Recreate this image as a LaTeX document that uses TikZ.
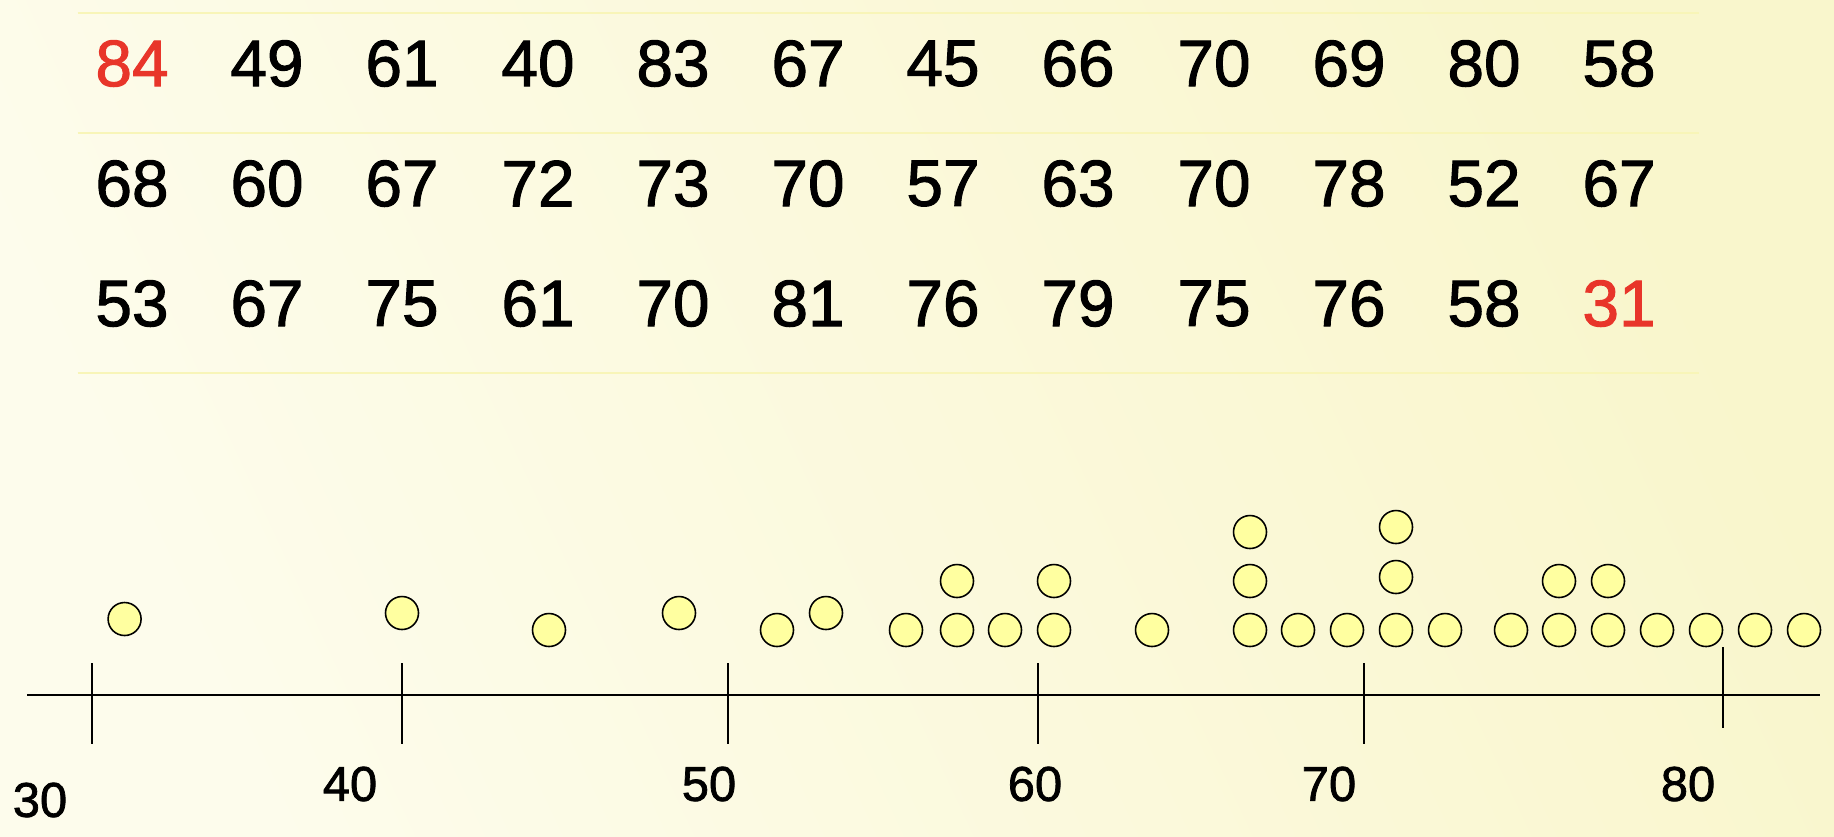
\documentclass[tikz,border=0pt]{standalone}
\usepackage{fontspec}
\setmainfont{Liberation Sans}
\newfontfamily\heavyfont[FakeBold=1.5]{Liberation Sans}
\usepackage{tikz}

\definecolor{bgLight}{HTML}{FDFCEC}
\definecolor{bgDark}{HTML}{F9F6CC}
\definecolor{rule}{HTML}{F8F5B8}
\definecolor{dotFill}{HTML}{FFFFA0}
\definecolor{hot}{HTML}{E8352A}

\tikzset{
    val/.style={inner sep=0pt, font=\heavyfont\fontsize{18.7}{22}\selectfont},
    tick/.style={inner sep=0pt, font=\heavyfont\fontsize{13.9}{16}\selectfont},
    dot/.style={circle, draw=black, fill=dotFill, line width=0.45pt, minimum size=0.33cm, inner sep=0pt}
}

\begin{document}
\begin{tikzpicture}
            \useasboundingbox (0, 0) rectangle (18.34, -8.36);
            \shade[left color=bgLight, right color=bgDark, shading angle=115] (0, 0) rectangle (18.34, -8.36);
            % table rules
            \coordinate (r1l) at (0.775, -0.13);
            \coordinate (r1r) at (16.99, -0.13);
            \coordinate (r2l) at (0.775, -1.33);
            \coordinate (r2r) at (16.99, -1.33);
            \coordinate (r3l) at (0.775, -3.73);
            \coordinate (r3r) at (16.99, -3.73);
            \draw[rule, line width=0.6pt] (r1l) -- (r1r);
            \draw[rule, line width=0.6pt] (r2l) -- (r2r);
            \draw[rule, line width=0.6pt] (r3l) -- (r3r);
            % first row
            \node[val, hot] (a1) at (1.32, -0.635) {84};
            \node[val] (a2) at (2.67, -0.635) {49};
            \node[val] (a3) at (4.02, -0.635) {61};
            \node[val] (a4) at (5.38, -0.635) {40};
            \node[val] (a5) at (6.73, -0.635) {83};
            \node[val] (a6) at (8.08, -0.635) {67};
            \node[val] (a7) at (9.43, -0.635) {45};
            \node[val] (a8) at (10.78, -0.635) {66};
            \node[val] (a9) at (12.14, -0.635) {70};
            \node[val] (a10) at (13.49, -0.635) {69};
            \node[val] (a11) at (14.84, -0.635) {80};
            \node[val] (a12) at (16.19, -0.635) {58};
            % second row
            \node[val] (b1) at (1.32, -1.835) {68};
            \node[val] (b2) at (2.67, -1.835) {60};
            \node[val] (b3) at (4.02, -1.835) {67};
            \node[val] (b4) at (5.38, -1.835) {72};
            \node[val] (b5) at (6.73, -1.835) {73};
            \node[val] (b6) at (8.08, -1.835) {70};
            \node[val] (b7) at (9.43, -1.835) {57};
            \node[val] (b8) at (10.78, -1.835) {63};
            \node[val] (b9) at (12.14, -1.835) {70};
            \node[val] (b10) at (13.49, -1.835) {78};
            \node[val] (b11) at (14.84, -1.835) {52};
            \node[val] (b12) at (16.19, -1.835) {67};
            % third row
            \node[val] (c1) at (1.32, -3.035) {53};
            \node[val] (c2) at (2.67, -3.035) {67};
            \node[val] (c3) at (4.02, -3.035) {75};
            \node[val] (c4) at (5.38, -3.035) {61};
            \node[val] (c5) at (6.73, -3.035) {70};
            \node[val] (c6) at (8.08, -3.035) {81};
            \node[val] (c7) at (9.43, -3.035) {76};
            \node[val] (c8) at (10.78, -3.035) {79};
            \node[val] (c9) at (12.14, -3.035) {75};
            \node[val] (c10) at (13.49, -3.035) {76};
            \node[val] (c11) at (14.84, -3.035) {58};
            \node[val, hot] (c12) at (16.19, -3.035) {31};
            % number line
            \coordinate (axl) at (0.27, -6.95);
            \coordinate (axr) at (18.20, -6.95);
            \draw[line width=0.6pt] (axl) -- (axr);
            \coordinate (t30a) at (0.92, -6.63);
            \coordinate (t30b) at (0.92, -7.44);
            \coordinate (t40a) at (4.02, -6.63);
            \coordinate (t40b) at (4.02, -7.44);
            \coordinate (t50a) at (7.28, -6.63);
            \coordinate (t50b) at (7.28, -7.44);
            \coordinate (t60a) at (10.38, -6.63);
            \coordinate (t60b) at (10.38, -7.44);
            \coordinate (t70a) at (13.64, -6.63);
            \coordinate (t70b) at (13.64, -7.44);
            \coordinate (t80a) at (17.23, -6.47);
            \coordinate (t80b) at (17.23, -7.28);
            \draw[line width=0.45pt] (t30a) -- (t30b);
            \draw[line width=0.45pt] (t40a) -- (t40b);
            \draw[line width=0.45pt] (t50a) -- (t50b);
            \draw[line width=0.45pt] (t60a) -- (t60b);
            \draw[line width=0.45pt] (t70a) -- (t70b);
            \draw[line width=0.45pt] (t80a) -- (t80b);
            \node[tick] (l30) at (0.40, -8.00) {30};
            \node[tick] (l40) at (3.50, -7.84) {40};
            \node[tick] (l50) at (7.09, -7.84) {50};
            \node[tick] (l60) at (10.35, -7.84) {60};
            \node[tick] (l70) at (13.29, -7.84) {70};
            \node[tick] (l80) at (16.88, -7.84) {80};
            % dots, lone ones
            \node[dot] (d1) at (1.246, -6.19) {};
            \node[dot] (d2) at (4.02, -6.13) {};
            \node[dot] (d3) at (5.49, -6.30) {};
            \node[dot] (d4) at (6.79, -6.13) {};
            \node[dot] (d5) at (7.77, -6.30) {};
            \node[dot] (d6) at (8.26, -6.13) {};
            % dots, bottom row
            \node[dot] (e1) at (9.06, -6.30) {};
            \node[dot] (e2) at (9.57, -6.30) {};
            \node[dot] (e3) at (10.05, -6.30) {};
            \node[dot] (e4) at (10.54, -6.30) {};
            \node[dot] (e5) at (11.52, -6.30) {};
            \node[dot] (e6) at (12.50, -6.30) {};
            \node[dot] (e7) at (12.98, -6.30) {};
            \node[dot] (e8) at (13.47, -6.30) {};
            \node[dot] (e9) at (13.96, -6.30) {};
            \node[dot] (e10) at (14.45, -6.30) {};
            \node[dot] (e11) at (15.11, -6.30) {};
            \node[dot] (e12) at (15.59, -6.30) {};
            \node[dot] (e13) at (16.08, -6.30) {};
            \node[dot] (e14) at (16.57, -6.30) {};
            \node[dot] (e15) at (17.06, -6.30) {};
            \node[dot] (e16) at (17.55, -6.30) {};
            \node[dot] (e17) at (18.04, -6.30) {};
            % dots, stacked
            \node[dot] (f1) at (9.57, -5.81) {};
            \node[dot] (f2) at (10.54, -5.81) {};
            \node[dot] (f3) at (12.50, -5.81) {};
            \node[dot] (f4) at (13.96, -5.77) {};
            \node[dot] (f5) at (15.59, -5.81) {};
            \node[dot] (f6) at (16.08, -5.81) {};
            \node[dot] (g1) at (12.50, -5.32) {};
            \node[dot] (g2) at (13.96, -5.27) {};
        \end{tikzpicture}
\end{document}
